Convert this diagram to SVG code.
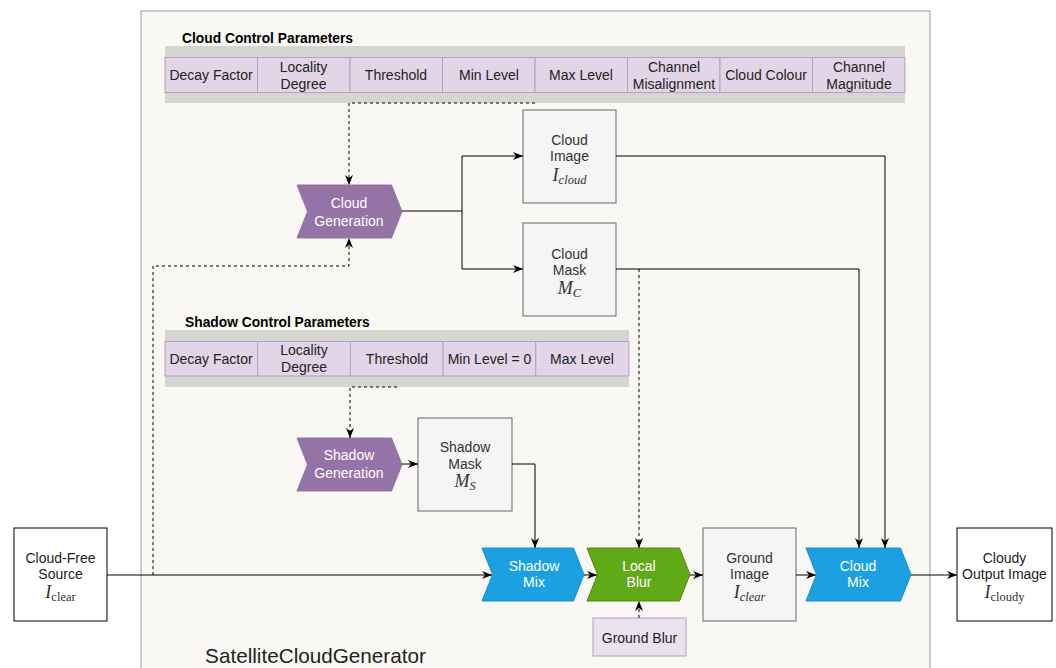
<svg xmlns="http://www.w3.org/2000/svg" width="1056" height="668" viewBox="0 0 1056 668">
<style>
text{font-family:"Liberation Sans",Arial,sans-serif;font-size:14px;fill:#222;text-anchor:middle}
.w{fill:#fff}
.g{fill:#333}
.t{font-weight:bold;text-anchor:start;font-size:13.8px;fill:#000}
.m{font-family:"Liberation Serif","DejaVu Serif",serif;font-style:italic;font-size:18px;fill:#333}
.r{font-style:normal}
.cell{fill:#e1d5e7;stroke:#b59fc4;stroke-width:1}
.band{fill:#d6d6d0}
.box{fill:#f5f5f5;stroke:#666;stroke-width:1}
.wb{fill:#fff;stroke:#000;stroke-width:1}
.pur{fill:#9673a6;stroke:#9673a6}
.blu{fill:#1ba1e2;stroke:#1a8fcb}
.grn{fill:#60a917;stroke:#4d8a12}
.c{fill:none;stroke:#000;stroke-width:1}
.d{fill:none;stroke:#000;stroke-width:1;stroke-dasharray:3 3}
</style>
<defs>
<marker id="a" markerUnits="userSpaceOnUse" markerWidth="10" markerHeight="10" viewBox="0 0 10 8" refX="10" refY="4" orient="auto">
<path d="M0,0 L10,4 L0,8 L3,4 Z" fill="#000"/>
</marker>
</defs>
<rect x="0" y="0" width="1056" height="668" fill="#fff"/>
<g id="container">
<rect x="141" y="11" width="789" height="670" fill="#f9f8f4" stroke="#999" stroke-width="1"/>
<text x="315.5" y="663" style="font-size:20.7px" fill="#111">SatelliteCloudGenerator</text>
</g>
<g id="cloud-params">
<text class="t" x="182" y="43">Cloud Control Parameters</text>
<rect class="band" x="165" y="46" width="740" height="57"/>
<rect class="cell" x="165" y="57.5" width="92.5" height="35"/>
<rect class="cell" x="257.5" y="57.5" width="92.5" height="35"/>
<rect class="cell" x="350" y="57.5" width="92.5" height="35"/>
<rect class="cell" x="442.5" y="57.5" width="92.5" height="35"/>
<rect class="cell" x="535" y="57.5" width="92.5" height="35"/>
<rect class="cell" x="627.5" y="57.5" width="92.5" height="35"/>
<rect class="cell" x="720" y="57.5" width="92.5" height="35"/>
<rect class="cell" x="812.5" y="57.5" width="92.5" height="35"/>
<text x="211" y="80">Decay Factor</text>
<text x="303.5" y="72">Locality</text><text x="303.5" y="89">Degree</text>
<text x="396" y="80">Threshold</text>
<text x="489" y="80">Min Level</text>
<text x="581" y="80">Max Level</text>
<text x="674" y="72">Channel</text><text x="674" y="89">Misalignment</text>
<text x="766" y="80">Cloud Colour</text>
<text x="859" y="72">Channel</text><text x="859" y="89">Magnitude</text>
</g>
<g id="shadow-params">
<text class="t" x="185" y="327">Shadow Control Parameters</text>
<rect class="band" x="165" y="330" width="464" height="57"/>
<rect class="cell" x="165" y="341.5" width="92.7" height="34.5"/>
<rect class="cell" x="257.7" y="341.5" width="92.7" height="34.5"/>
<rect class="cell" x="350.4" y="341.5" width="92.7" height="34.5"/>
<rect class="cell" x="443.1" y="341.5" width="92.7" height="34.5"/>
<rect class="cell" x="535.8" y="341.5" width="93.2" height="34.5"/>
<text x="211" y="364">Decay Factor</text>
<text x="304" y="355">Locality</text><text x="304" y="372">Degree</text>
<text x="397" y="364">Threshold</text>
<text x="489.5" y="364">Min Level = 0</text>
<text x="582" y="364">Max Level</text>
</g>
<g id="cloud-generation">
<path class="pur" d="M297,185 L391.5,185 L402,211.5 L391.5,238 L297,238 L307.5,211.5 Z"/>
<text class="w" x="349" y="208">Cloud</text><text class="w" x="349" y="226">Generation</text>
</g>
<g id="cloud-image">
<rect class="box" x="523" y="110" width="93" height="93"/>
<text class="g" x="569.5" y="145">Cloud</text><text class="g" x="569.5" y="161">Image</text>
<text class="m" x="569.5" y="181">I<tspan font-size="12.5" dy="3">cloud</tspan></text>
</g>
<g id="cloud-mask">
<rect class="box" x="523" y="223" width="93" height="93"/>
<text class="g" x="569.5" y="259">Cloud</text><text class="g" x="569.5" y="275">Mask</text>
<text class="m" x="569.5" y="294">M<tspan font-size="12.5" dy="3">C</tspan></text>
</g>
<g id="shadow-generation">
<path class="pur" d="M297,438 L391.5,438 L402,464.5 L391.5,491 L297,491 L307.5,464.5 Z"/>
<text class="w" x="349" y="460">Shadow</text><text class="w" x="349" y="478">Generation</text>
</g>
<g id="shadow-mask">
<rect class="box" x="418" y="418" width="94" height="93"/>
<text class="g" x="465" y="452">Shadow</text><text class="g" x="465" y="469">Mask</text>
<text class="m" x="465" y="487">M<tspan font-size="12.5" dy="3">S</tspan></text>
</g>
<g id="source">
<rect class="wb" x="14" y="528" width="93" height="93"/>
<text x="60.5" y="563">Cloud-Free</text><text x="60.5" y="579">Source</text>
<text class="m" x="60.5" y="598">I<tspan class="r" font-size="12.5" dy="3">clear</tspan></text>
</g>
<g id="shadow-mix">
<path class="blu" d="M482,548 L573.5,548 L584,574.5 L573.5,601 L482,601 L492.5,574.5 Z"/>
<text class="w" x="534" y="571">Shadow</text><text class="w" x="534" y="587">Mix</text>
</g>
<g id="local-blur">
<path class="grn" d="M587,548 L679.5,548 L690,574.5 L679.5,601 L587,601 L597.5,574.5 Z"/>
<text class="w" x="639" y="571">Local</text><text class="w" x="639" y="587">Blur</text>
</g>
<g id="ground-blur">
<rect x="593" y="618" width="93" height="38" fill="#ebe2ef" stroke="#b59fc4"/>
<text x="639.5" y="643">Ground Blur</text>
</g>
<g id="ground-image">
<rect class="box" x="703" y="528" width="93" height="93"/>
<text class="g" x="749.5" y="563">Ground</text><text class="g" x="749.5" y="579">Image</text>
<text class="m" x="749.5" y="598">I<tspan font-size="12.5" dy="3">clear</tspan></text>
</g>
<g id="cloud-mix">
<path class="blu" d="M806,548 L900.5,548 L911,574.5 L900.5,601 L806,601 L816.5,574.5 Z"/>
<text class="w" x="858" y="571">Cloud</text><text class="w" x="858" y="587">Mix</text>
</g>
<g id="output">
<rect class="wb" x="957" y="528" width="95" height="93"/>
<text x="1004.5" y="563">Cloudy</text><text x="1004.5" y="579">Output Image</text>
<text class="m" x="1004.5" y="598">I<tspan class="r" font-size="12.5" dy="3">cloudy</tspan></text>
</g>
<g id="connectors">
<path class="c" d="M107,575 L492,575" marker-end="url(#a)"/>
<path class="c" d="M584,575 L597,575" marker-end="url(#a)"/>
<path class="c" d="M690,575 L703,575" marker-end="url(#a)"/>
<path class="c" d="M796,575 L816,575" marker-end="url(#a)"/>
<path class="c" d="M911,575 L957,575" marker-end="url(#a)"/>
<path class="c" d="M402,211 L462,211 L462,156 L523,156" marker-end="url(#a)"/>
<path class="c" d="M462,211 L462,269 L523,269" marker-end="url(#a)"/>
<path class="c" d="M616,156 L885,156 L885,548" marker-end="url(#a)"/>
<path class="c" d="M616,269 L859,269 L859,548" marker-end="url(#a)"/>
<path class="c" d="M402,464 L418,464" marker-end="url(#a)"/>
<path class="c" d="M512,464 L535,464 L535,548" marker-end="url(#a)"/>
<path class="d" d="M535,103 L349,103 L349,185" marker-end="url(#a)"/>
<path class="d" d="M153,575 L153,266 L349,266 L349,238" marker-end="url(#a)"/>
<path class="d" d="M397,387 L350,387 L350,438" marker-end="url(#a)"/>
<path class="d" d="M639,269 L639,548" marker-end="url(#a)"/>
<path class="d" d="M639,618 L639,601" marker-end="url(#a)"/>
</g>
</svg>
